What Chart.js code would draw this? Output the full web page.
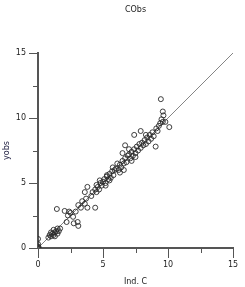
<!DOCTYPE html>
<html>
<head>
<meta charset="utf-8">
<script src="https://cdn.jsdelivr.net/npm/chart.js@4/dist/chart.umd.min.js"></script>
<style>
  html, body { margin: 0; padding: 0; background: #fff; }
  canvas { display: block; }
</style>
</head>
<body>
<canvas id="grafico" width="245" height="287"></canvas>
<script>
// valores (Ind. C x CObs)
var titulo = 'CObs';
var indC = [0, 0, 0, 0, 0.05,
  0.8, 0.9, 1.0, 1.1, 1.2, 1.3, 1.4, 1.2, 1.5, 1.6, 1.0, 1.7, 1.3, 1.5,
  1.45, 2.05, 2.4, 3.8, 4.4, 2.75, 3.05, 3.1,
  2.2, 2.3, 2.5, 2.7, 2.9, 3.1, 3.3, 3.4, 3.6, 3.7, 3.6, 3.8,
  4.1, 4.2, 4.4, 4.5, 4.6, 4.7, 4.8, 4.9, 4.5, 4.75,
  5.0, 5.1, 5.2, 5.3, 5.4, 5.5, 5.6, 5.7, 5.8, 5.9, 5.3, 5.75, 5.5, 5.2,
  6.0, 6.1, 6.2, 6.3, 6.4, 6.5, 6.6, 6.7, 6.8, 6.9, 6.5, 6.7, 6.3, 6.6,
  7.0, 7.1, 7.2, 7.3, 7.4, 7.5, 7.6, 7.7, 7.8, 7.9, 7.4, 7.9, 7.2, 7.5, 7.0,
  8.0, 8.1, 8.2, 8.3, 8.4, 8.5, 8.6, 8.7, 8.8, 8.9, 9.05, 8.3,
  9.1, 9.2, 9.3, 9.4, 9.6, 9.8, 9.45, 9.6, 9.65, 10.1, 9.5];
var cObs = [0, 0.1, 0.3, 0.7, 0.05,
  0.8, 1.0, 0.9, 1.1, 1.0, 1.2, 1.3, 1.4, 1.1, 1.3, 1.2, 1.5, 0.9, 1.5,
  3.0, 2.85, 2.8, 3.1, 3.1, 1.9, 2.0, 1.7,
  2.0, 2.5, 2.7, 2.4, 2.8, 3.3, 3.1, 3.6, 3.4, 3.8, 4.3, 4.7,
  4.0, 4.3, 4.5, 4.3, 4.7, 4.5, 5.0, 4.8, 4.85, 5.2,
  5.1, 5.3, 5.0, 5.5, 5.3, 5.7, 5.4, 5.9, 5.6, 6.0, 5.6, 6.2, 5.2, 4.8,
  6.1, 6.5, 6.0, 6.4, 6.2, 6.7, 6.5, 6.9, 6.6, 7.1, 7.3, 7.9, 5.8, 6.0,
  7.2, 6.9, 7.4, 7.1, 7.6, 7.3, 7.8, 7.5, 8.0, 7.7, 8.7, 9.0, 6.7, 7.0, 7.6,
  8.1, 7.9, 8.3, 8.0, 8.5, 8.2, 8.7, 8.4, 8.9, 8.6, 7.8, 8.7,
  9.2, 9.0, 9.4, 9.6, 9.7, 9.7, 11.45, 10.5, 10.2, 9.3, 9.9];
var linhaX = [0, 15];
var linhaY = [0, 15];
var ticksMaiores = [0, 5, 10, 15];
var ticksMenores = [2.5, 7.5, 12.5];

var pontos = indC.map(function (x, i) { return { x: x, y: cObs[i] }; });
var linha = linhaX.map(function (x, i) { return { x: x, y: linhaY[i] }; });

var fonte = { family: 'DejaVu Sans', size: 8, weight: 'normal' };

// ticks menores e título centrado sobre a área do gráfico
var extrasPlugin = {
  id: 'extras',
  afterDraw: function (chart) {
    var ctx = chart.ctx;
    var sx = chart.scales.x, sy = chart.scales.y;
    ctx.save();
    ctx.strokeStyle = '#555';
    ctx.lineWidth = 1;
    ticksMenores.forEach(function (v) {
      var px = Math.round(sx.getPixelForValue(v)) + 0.5;
      ctx.beginPath();
      ctx.moveTo(px, sx.top);
      ctx.lineTo(px, sx.top + 5);
      ctx.stroke();
      var py = Math.round(sy.getPixelForValue(v)) + 0.5;
      ctx.beginPath();
      ctx.moveTo(sy.right, py);
      ctx.lineTo(sy.right - 5, py);
      ctx.stroke();
    });
    var a = chart.chartArea;
    ctx.fillStyle = '#222';
    ctx.font = '8px "DejaVu Sans"';
    ctx.textAlign = 'center';
    ctx.textBaseline = 'middle';
    ctx.fillText(titulo, (a.left + a.right) / 2, 10);
    ctx.restore();
  }
};

new Chart(document.getElementById('grafico').getContext('2d'), {
  type: 'scatter',
  data: {
    datasets: [{
      label: 'CObs',
      data: pontos,
      pointRadius: 2.5,
      pointHoverRadius: 2.5,
      pointBorderWidth: 0.9,
      borderColor: '#2a2a2a',
      backgroundColor: 'rgba(0,0,0,0)'
    }, {
      label: 'y = x',
      data: linha,
      showLine: true,
      pointRadius: 0,
      borderColor: '#666',
      borderWidth: 0.8
    }]
  },
  options: {
    responsive: false,
    animation: false,
    layout: { padding: { left: 0, right: 12, top: 53, bottom: 0 } },
    plugins: {
      legend: { display: false },
      tooltip: { enabled: false },
      title: { display: false }
    },
    scales: {
      x: {
        type: 'linear',
        min: 0, max: 15,
        afterBuildTicks: function (s) { s.ticks = ticksMaiores.map(function (v) { return { value: v }; }); },
        afterFit: function (s) { s.height = 39; },
        grid: { drawOnChartArea: false, tickLength: 10, tickColor: '#555', tickWidth: 1 },
        border: { display: true, color: '#555', width: 2 },
        ticks: { color: '#222', font: fonte, padding: 2, maxRotation: 0 },
        title: { display: true, text: 'Ind. C', color: '#222', font: fonte, padding: { top: 2, bottom: 0 } }
      },
      y: {
        type: 'linear',
        min: 0, max: 15,
        afterBuildTicks: function (s) { s.ticks = ticksMaiores.map(function (v) { return { value: v }; }); },
        afterFit: function (s) { s.width = 38; },
        grid: { drawOnChartArea: false, tickLength: 9, tickColor: '#555', tickWidth: 1 },
        border: { display: true, color: '#555', width: 2 },
        ticks: { color: '#222', font: fonte, padding: 3 },
        title: { display: true, text: 'yobs', color: '#224', font: fonte, padding: { top: 2, bottom: 0 } }
      }
    }
  },
  plugins: [extrasPlugin]
});
</script>
</body>
</html>
